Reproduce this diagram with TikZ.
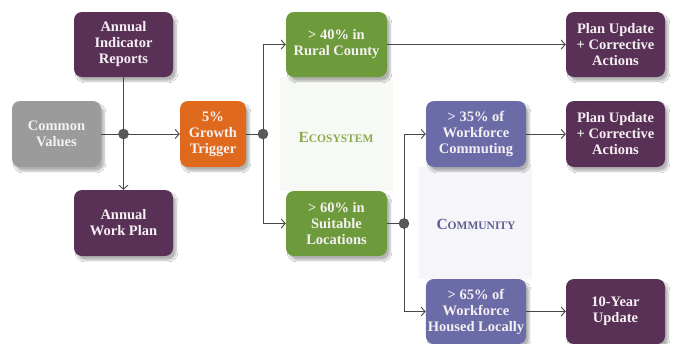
\documentclass[tikz,border=0pt]{standalone}
\usepackage{fontspec}
\setmainfont{Liberation Serif}
\usetikzlibrary{arrows.meta,shadows.blur}
\definecolor{plum}{HTML}{5A3156}
\definecolor{greybox}{HTML}{9B9B9B}
\definecolor{orangebox}{HTML}{DF6A1E}
\definecolor{greenbox}{HTML}{6D9B3C}
\definecolor{bluebox}{HTML}{6B6BA7}
\definecolor{linecol}{HTML}{474747}
\definecolor{ecotext}{HTML}{8AAA4E}
\definecolor{comtext}{HTML}{5E5E90}
\definecolor{ecopanel}{HTML}{F7F9F4}
\definecolor{companel}{HTML}{F6F6FA}
\definecolor{boxtext}{HTML}{F5F0F2}
\begin{document}
\begin{tikzpicture}[x=1pt,y=-1pt,
  box/.style={rounded corners=8pt, minimum width=99pt, minimum height=65pt,
    inner sep=2pt, align=center, text=boxtext,
    font=\bfseries\fontsize{14.5}{16}\selectfont,
    blur shadow={shadow xshift=3pt, shadow yshift=-4pt, shadow opacity=30, shadow blur steps=6}},
  plumbox/.style={box, fill=plum},
  conn/.style={draw=linecol, line width=0.9pt},
  arr/.style={conn, -{Straight Barb[length=4pt,width=9pt,line width=0.9pt]}},
  dot/.style={circle, fill=linecol!90, draw=linecol, minimum size=10pt, inner sep=0pt},
  panellabel/.style={font=\bfseries}
]
\useasboundingbox (0,0) rectangle (675,343);
\clip (0,0) rectangle (675,343);
\fill[white] (0,0) rectangle (675,343);
% panels
\fill[ecopanel] (280,77) rectangle (393,191);
\fill[companel] (419,167) rectangle (532,279);
\node[panellabel, text=ecotext] (eco) at (336,137) {{\fontsize{15.5}{15.5}\selectfont E}{\fontsize{11.5}{11.5}\selectfont COSYSTEM}};
\node[panellabel, text=comtext] (com) at (476,224) {{\fontsize{15.5}{15.5}\selectfont C}{\fontsize{11.5}{11.5}\selectfont OMMUNITY}};
% boxes
\node[plumbox] (rep) at (123.5,44.5) {Annual\\Indicator\\Reports};
\node[box, fill=greybox, minimum width=89pt, minimum height=66pt] (cv) at (56.5,134) {Common\\Values};
\node[box, fill=orangebox, minimum width=66pt, minimum height=66pt] (gt) at (213,134) {5\%\\Growth\\Trigger};
\node[plumbox, minimum height=66pt] (wp) at (123.5,223) {Annual\\Work Plan};
\node[box, fill=greenbox, minimum width=101pt] (rc) at (336.5,44.5) {> 40\% in\\Rural County};
\node[box, fill=greenbox, minimum width=101pt] (sl) at (336.5,223.5) {> 60\% in\\Suitable\\Locations};
\node[box, fill=bluebox, minimum width=100pt, minimum height=66pt] (wc) at (476,134) {> 35\% of\\Workforce\\Commuting};
\node[box, fill=bluebox, minimum width=100pt] (hl) at (476,311.5) {> 65\% of\\Workforce\\Housed Locally};
\node[plumbox] (pu1) at (615.5,44.5) {Plan Update\\+ Corrective\\Actions};
\node[plumbox, minimum height=66pt] (pu2) at (615.5,134) {Plan Update\\+ Corrective\\Actions};
\node[plumbox] (ty) at (615.5,311.5) {10-Year\\Update};
% junctions
\coordinate (j1) at (123.5,134);
\coordinate (j2) at (263,134);
\coordinate (j3) at (404,223.5);
% connectors
\draw[conn] (rep.south) -- (j1);
\draw[conn] (cv.east) -- (j1);
\draw[arr] (j1) -- (gt.west);
\draw[arr] (j1) -- (wp.north);
\draw[conn] (gt.east) -- (j2);
\draw[arr] (j2) |- (rc.west);
\draw[arr] (j2) |- (sl.west);
\draw[conn] (sl.east) -- (j3);
\draw[arr] (j3) |- (wc.west);
\draw[arr] (j3) |- (hl.west);
\draw[arr] (rc.east) -- (pu1.west);
\draw[arr] (wc.east) -- (pu2.west);
\draw[arr] (hl.east) -- (ty.west);
\node[dot] (d1) at (j1) {};
\node[dot] (d2) at (j2) {};
\node[dot] (d3) at (j3) {};
\end{tikzpicture}
\end{document}
